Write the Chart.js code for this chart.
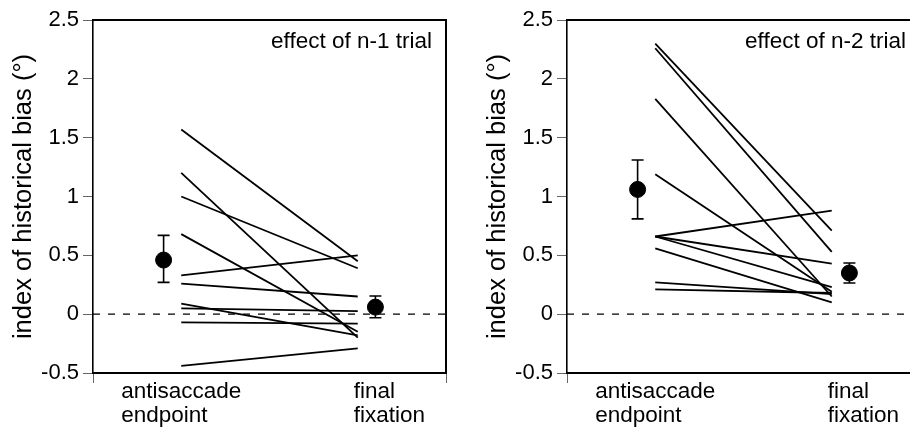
<!DOCTYPE html>
<html>
<head>
<meta charset="utf-8">
<script src="https://cdn.jsdelivr.net/npm/chart.js@4"></script>
<style>
    html, body { margin: 0; padding: 0; background: #fff; overflow: hidden; }
    body { width: 910px; height: 429px; position: relative; }
    .panel { position: absolute; top: 0; width: 455px; height: 429px; }
</style>
</head>
<body>
<div class="panel" style="left:0"><canvas id="chartN1" width="455" height="429"></canvas></div>
<div class="panel" style="left:474px"><canvas id="chartN2" width="455" height="429"></canvas></div>
<script>
const FONT = "'Liberation Sans', Arial, Helvetica, sans-serif";

const categories = [["antisaccade", "endpoint"], ["final", "fixation"]];
const categoryX = [0.25, 0.75];   // subject lines
const meanX = [0.2, 0.8];         // group means, drawn beside the categories
const yTicks = [-0.5, 0, 0.5, 1, 1.5, 2, 2.5];

// effect of n-1 trial, one value per subject
const n1Endpoint = [1.57, 1.20, 1.00, 0.68, 0.33, 0.26, 0.09, 0.05, -0.07, -0.44];
const n1Final = [0.45, -0.20, 0.39, -0.15, 0.50, 0.15, -0.18, 0.025, -0.08, -0.29];
const n1Mean = [0.46, 0.06];
const n1ErrHigh = [0.67, 0.155];
const n1ErrLow = [0.27, -0.03];

// effect of n-2 trial
const n2Endpoint = [2.30, 2.26, 1.83, 1.19, 0.66, 0.66, 0.66, 0.56, 0.27, 0.21];
const n2Final = [0.71, 0.53, 0.15, 0.19, 0.88, 0.43, 0.23, 0.10, 0.17, 0.18];
const n2Mean = [1.06, 0.35];
const n2ErrHigh = [1.31, 0.435];
const n2ErrLow = [0.81, 0.265];

const errorBars = {
    id: 'errorBars',
    afterDatasetsDraw(chart, args, opts) {
        let ctx = chart.ctx, xs = chart.scales.x, ys = chart.scales.y;
        ctx.save();
        ctx.strokeStyle = '#000';
        ctx.lineWidth = 1.6;
        opts.x.forEach((x, i) => {
            let px = xs.getPixelForValue(x);
            let top = ys.getPixelForValue(opts.high[i]);
            let bottom = ys.getPixelForValue(opts.low[i]);
            ctx.beginPath();
            ctx.moveTo(px, top); ctx.lineTo(px, bottom);
            ctx.moveTo(px - 6, top); ctx.lineTo(px + 6, top);
            ctx.moveTo(px - 6, bottom); ctx.lineTo(px + 6, bottom);
            ctx.stroke();
        });
        ctx.restore();
    }
};

const frameAndText = {
    id: 'frameAndText',
    afterDraw(chart, args, opts) {
        let ctx = chart.ctx, area = chart.chartArea, xs = chart.scales.x;
        ctx.save();
        // top and right edges of the box
        ctx.strokeStyle = '#000';
        ctx.lineWidth = 2;
        ctx.beginPath();
        ctx.moveTo(area.left, area.top);
        ctx.lineTo(area.right, area.top);
        ctx.lineTo(area.right, area.bottom);
        ctx.stroke();

        ctx.fillStyle = '#000';
        ctx.font = `22.5px ${FONT}`;
        ctx.textBaseline = 'alphabetic';
        ctx.textAlign = 'right';
        ctx.fillText(opts.note, area.right - 14, area.top + 28);

        ctx.textAlign = 'left';
        categories.forEach((lines, i) => {
            let px = xs.getPixelForValue(categoryX[i]);
            let left = i == 0 ? px - ctx.measureText(lines[0]).width / 2 : px - 4;
            lines.forEach((t, j) => ctx.fillText(t, left, area.bottom + 25 + j * 24));
        });
        ctx.restore();
    }
};

function createPanel(canvasId, endpoint, final, mean, errHigh, errLow, note) {
    let subjectSets = endpoint.map((v, i) => ({
        data: [{x: categoryX[0], y: v}, {x: categoryX[1], y: final[i]}],
        borderColor: '#000',
        borderWidth: 1.8,
        pointRadius: 0,
        tension: 0,
        fill: false
    }));
    let zeroLine = {
        data: [{x: 0, y: 0}, {x: 1, y: 0}],
        borderColor: '#000',
        borderWidth: 1.4,
        borderDash: [7, 8],
        pointRadius: 0
    };
    let means = {
        type: 'scatter',
        data: meanX.map((x, i) => ({x: x, y: mean[i]})),
        backgroundColor: '#000',
        borderColor: '#000',
        borderWidth: 1,
        pointRadius: 8
    };
    return new Chart(canvasId, {
        type: 'line',
        data: { datasets: [zeroLine, ...subjectSets, means] },
        plugins: [errorBars, frameAndText],
        options: {
            responsive: false,
            animation: false,
            devicePixelRatio: 1,
            layout: { padding: { top: 20, right: 9, left: 0, bottom: 0 } },
            plugins: {
                legend: { display: false },
                tooltip: { enabled: false },
                errorBars: { x: meanX, high: errHigh, low: errLow },
                frameAndText: { note: note }
            },
            scales: {
                x: {
                    type: 'linear',
                    min: 0,
                    max: 1,
                    afterBuildTicks: s => { s.ticks = [{value: 0}, {value: 1}]; },
                    afterFit: s => { s.height = 56; },
                    ticks: { display: false },
                    grid: { drawOnChartArea: false, drawTicks: true, tickLength: 10, color: '#666', lineWidth: 1 },
                    border: { color: '#000', width: 2 }
                },
                y: {
                    type: 'linear',
                    min: -0.5,
                    max: 2.5,
                    afterBuildTicks: s => { s.ticks = yTicks.map(v => ({value: v})); },
                    afterFit: s => { s.width = 93; },
                    ticks: {
                        color: '#000',
                        padding: 4,
                        font: { family: FONT, size: 22 },
                        callback: v => String(v)
                    },
                    grid: { drawOnChartArea: false, tickLength: 10, color: '#666', lineWidth: 1 },
                    border: { color: '#000', width: 1.6 },
                    title: {
                        display: true,
                        text: 'index of historical bias (°)',
                        color: '#000',
                        font: { family: FONT, size: 25.5 },
                        padding: { top: 9, bottom: 0 }
                    }
                }
            }
        }
    });
}

createPanel('chartN1', n1Endpoint, n1Final, n1Mean, n1ErrHigh, n1ErrLow, 'effect of n-1 trial');
createPanel('chartN2', n2Endpoint, n2Final, n2Mean, n2ErrHigh, n2ErrLow, 'effect of n-2 trial');
</script>
</body>
</html>
